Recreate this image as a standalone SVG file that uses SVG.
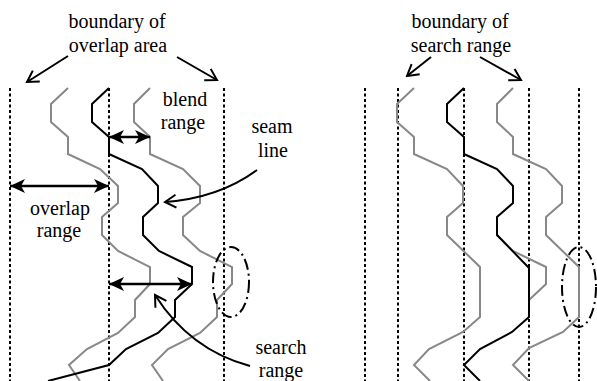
<svg xmlns="http://www.w3.org/2000/svg" width="597" height="381" viewBox="0 0 597 381">
<style>
  .bg{fill:#fff}
  .dot{stroke:#000;stroke-width:2;stroke-dasharray:3 2.5;fill:none}
  .gray{stroke:#888;stroke-width:2;fill:none;stroke-linejoin:miter}
  .seam{stroke:#000;stroke-width:2;fill:none}
  text{font-family:"Times New Roman","Liberation Serif","DejaVu Serif",serif;font-size:20px;fill:#000;text-anchor:middle}
  .dbl{stroke:#000;stroke-width:2.5;fill:none;marker-start:url(#fh);marker-end:url(#fh)}
  .ptr{stroke:#000;stroke-width:2;fill:none;marker-end:url(#vh)}
  .dd{stroke:#000;stroke-width:2;fill:none;stroke-dasharray:11 4 2 4}
</style>
<defs>
  <marker id="fh" viewBox="-16 -8 16 16" refX="0" refY="0" markerWidth="16" markerHeight="16" markerUnits="userSpaceOnUse" orient="auto-start-reverse">
    <path d="M0,0 L-15,-7 L-11,0 L-15,7 Z" fill="#000"/>
  </marker>
  <marker id="vh" viewBox="-14 -8 16 16" refX="0" refY="0" markerWidth="16" markerHeight="16" markerUnits="userSpaceOnUse" orient="auto">
    <path d="M-11,-6.5 L0,0 L-11,6.5" fill="none" stroke="#000" stroke-width="2"/>
  </marker>
</defs>
<rect class="bg" x="0" y="0" width="597" height="381"/>

<g id="left-panel">
  <g id="left-boundaries">
    <line class="dot" x1="10" y1="88" x2="10" y2="381"/>
    <line class="dot" x1="109" y1="88" x2="109" y2="381"/>
    <line class="dot" x1="224" y1="88" x2="224" y2="381"/>
  </g>
  <polyline id="left-gray1" class="gray" points="68,88 51,104 51,122 68,137 68,154 100,169 118,186 118,203 102,217 102,235 118,251 150,267 150,284 135,300 135,317 118,333 87,349 69,365 80,381"/>
  <polyline id="left-gray2" class="gray" points="150,88 134,104 134,122 150,137 150,154 183,169 200,186 200,203 183,217 183,235 200,251 232,267 232,284 217,300 217,317 200,333 168,349 152,365 163,381"/>
  <polyline id="left-seam" class="seam" points="109,88 92,104 92,122 109,137 109,154 142,169 158,186 158,203 143,217 143,235 159,251 192,267 192,284 175,300 175,317 158,333 126,349 109,365 48,381"/>
  <ellipse id="left-ellipse" class="dd" cx="231" cy="282" rx="18" ry="35"/>
</g>

<g id="right-panel">
  <g id="right-boundaries">
    <line class="dot" x1="365" y1="88" x2="365" y2="381"/>
    <line class="dot" x1="398" y1="88" x2="398" y2="381"/>
    <line class="dot" x1="464" y1="88" x2="464" y2="381"/>
    <line class="dot" x1="529" y1="88" x2="529" y2="381"/>
    <line class="dot" x1="579" y1="88" x2="579" y2="381"/>
  </g>
  <polyline id="right-gray1" class="gray" points="414,88 397,104 397,122 414,137 414,154 447,169 463,186 463,203 447,217 447,235 480,267 480,317 463,332 429,349 414,365 430,381"/>
  <polyline id="right-gray2" class="gray" points="513,88 497,104 497,122 513,137 513,154 546,169 562,186 562,203 546,217 546,235 579,267 579,317 563,332 529,348 513,365 529,381"/>
  <polyline id="right-oldseam" class="gray" points="497,235 513,251 546,267 546,284 529,300"/>
  <polyline id="right-seam" class="seam" points="464,88 447,104 447,122 464,137 464,154 497,169 513,186 513,203 497,217 497,235 529,268 529,317 512,332 480,349 464,365 480,381"/>
  <ellipse id="right-ellipse" class="dd" cx="579" cy="287" rx="17" ry="40"/>
</g>

<g id="connectors">
  <line class="ptr" x1="68" y1="56" x2="27" y2="82"/>
  <line class="ptr" x1="177" y1="57" x2="217" y2="80"/>
  <line class="ptr" x1="431" y1="57" x2="407" y2="76"/>
  <line class="ptr" x1="480" y1="57" x2="521" y2="80"/>
  <path class="ptr" d="M257,170 Q219,198 165,202"/>
  <path class="ptr" d="M250,366 Q190,350 155,295"/>
  <line class="dbl" x1="109" y1="137" x2="150" y2="137"/>
  <line class="dbl" x1="10" y1="186" x2="109" y2="186"/>
  <line class="dbl" x1="109" y1="284" x2="192" y2="284"/>
</g>

<g id="labels">
  <g id="label-overlap-area"><text x="117" y="28">boundary of</text><text x="118" y="52">overlap area</text></g>
  <g id="label-search-boundary"><text x="460" y="28">boundary of</text><text x="461" y="52">search range</text></g>
  <g id="label-blend"><text x="185" y="106">blend</text><text x="183" y="129">range</text></g>
  <g id="label-seam"><text x="272" y="133">seam</text><text x="273" y="157">line</text></g>
  <g id="label-overlap"><text x="60" y="215">overlap</text><text x="59" y="237">range</text></g>
  <g id="label-search"><text x="281" y="354">search</text><text x="281" y="377">range</text></g>
</g>
</svg>
